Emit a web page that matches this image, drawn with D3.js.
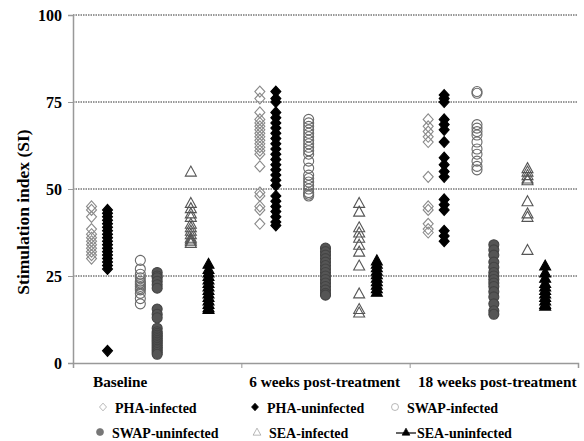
<!DOCTYPE html>
<html><head><meta charset="utf-8">
<script src="https://cdn.jsdelivr.net/npm/d3@7"></script>
<style>body{margin:0;background:#fff}svg{display:block}</style>
</head><body>
<script>
// ---------- DATA ----------
const groups = ["Baseline", "6 weeks post-treatment", "18 weeks post-treatment"];
const seriesNames = ["PHA-infected", "PHA-uninfected", "SWAP-infected", "SWAP-uninfected", "SEA-infected", "SEA-uninfected"];
const yTicks = [0, 25, 50, 75, 100];
// column positions (x-values) per group and series
const groupStart = [0, 10, 20];
const seriesOffset = [1.1, 2.05, 4.0, 5.0, 7.0, 8.05];

const phaInfected = [
  [45, 44, 42, 38.5, 37, 36, 35, 34, 33, 32, 31, 30],
  [78, 76, 72, 70, 69, 68, 67, 66, 65, 64, 63, 62, 61, 60, 56.5, 49, 48, 45, 44, 40],
  [70, 68, 66.5, 65, 63.5, 53.5, 45, 44, 40, 38.5, 37.5]
];
const phaUninfected = [
  [44, 43, 42, 41, 40, 39, 38, 37, 36, 35, 34, 33, 32, 31, 30, 29, 28, 27, 3.5],
  [78, 76, 75, 72, 70.5, 69, 67.5, 66, 64.5, 63, 61.5, 60, 58.5, 57, 55.5, 54, 52.5, 51, 48, 46.5, 45, 43.5, 42, 40.5, 39.5],
  [77, 76, 75, 70, 68.5, 67, 63.5, 59, 57, 55, 53.5, 47, 45.5, 44, 38, 36.5, 35]
];
const swapInfected = [
  [29.5, 27, 25.5, 24.5, 23.5, 23, 22.5, 22, 21.5, 21, 20, 18.5, 17],
  [70, 69, 68, 67, 66, 65, 64, 63, 62, 61, 60, 58, 56, 54, 53, 52, 51, 50, 49, 48.5, 48],
  [78, 77.5, 68.5, 67.5, 66.5, 65.5, 63.5, 61.5, 60, 58, 56.5, 55.5]
];
const swapUninfected = [
  [26, 25, 24.5, 23.5, 22.5, 21.5, 15.5, 14, 13, 10, 9, 8.5, 8, 7.5, 7, 6.5, 6, 5.5, 5, 4.5, 4, 3.5, 3, 2.5],
  [33, 32, 31, 30, 29, 28, 27, 26, 25, 24, 23, 22, 21, 20, 19.5],
  [34, 32.5, 31, 29, 27.5, 26, 25, 24, 23, 22, 20.5, 19, 17, 15, 14]
];
const seaInfected = [
  [55, 46, 44.5, 43, 42, 40, 39, 38, 37, 36, 35.5, 35, 34.5],
  [46, 43.5, 39, 37.5, 36, 34, 32, 28, 20, 15.5, 14.5],
  [56, 55, 54, 53, 52.5, 46.5, 43, 42, 32.5]
];
const seaUninfected = [
  [28.5, 27, 26, 25, 24, 23, 22, 21, 20, 19, 18, 17, 16, 15.5],
  [29.5, 28.5, 27.5, 26.5, 25.5, 24.5, 23.5, 22.5, 21.5, 20.5],
  [28, 26, 24.5, 23, 22, 21, 20, 19, 18, 17, 16.5]
];
const seriesValues = [phaInfected, phaUninfected, swapInfected, swapUninfected, seaInfected, seaUninfected];

// ---------- LAYOUT ----------
const W = 584, H = 441;
const L = 73, R = 578, T = 15, B = 363;
const svg = d3.select("body").append("svg").attr("width", W).attr("height", H);
const x = d3.scaleLinear().domain([0, 30]).range([L, R]);
const y = d3.scaleLinear().domain([0, 100]).range([B, T]);
const serif = "'Liberation Serif','Times New Roman',serif";

// marker shapes
const shapes = {
  diamond: "M0,-5.5L5,0L0,5.5L-5,0Z",
  circle: "M5,0A5,5 0 1,1 -5,0A5,5 0 1,1 5,0Z",
  triangle: "M0,-5.5L5.5,4.5L-5.5,4.5Z"
};
const styles = [
  {shape: "diamond", fill: "#fff", stroke: "#8a8a8a", fo: 0},
  {shape: "diamond", fill: "#000", stroke: "#000"},
  {shape: "circle", fill: "none", stroke: "#6a6a6a"},
  {shape: "circle", fill: "#555", stroke: "#444"},
  {shape: "triangle", fill: "none", stroke: "#555"},
  {shape: "triangle", fill: "#000", stroke: "#000"}
];

// gridlines
svg.append("g").selectAll("line").data(yTicks.filter(d => d > 0)).join("line")
  .attr("x1", L).attr("x2", R).attr("y1", d => y(d)).attr("y2", d => y(d))
  .attr("stroke", "#333").attr("stroke-width", 1).attr("stroke-dasharray", "1.5,1");

// y axis
const yAxis = d3.axisLeft(y).tickValues(yTicks).tickSize(5).tickPadding(6);
const ya = svg.append("g").attr("transform", `translate(${L},0)`).call(yAxis);
ya.select(".domain").attr("stroke", "#999").attr("stroke-width", 1.5);
ya.selectAll(".tick line").attr("stroke", "#999");
ya.selectAll(".tick text").attr("font-family", serif).attr("font-weight", "bold")
  .attr("font-size", 16).attr("fill", "#000");

// x axis
const xAxis = d3.axisBottom(x).tickValues([0, 10, 20, 30]).tickSize(5).tickFormat("");
const xa = svg.append("g").attr("transform", `translate(0,${B})`).call(xAxis);
xa.select(".domain").attr("stroke", "#999").attr("stroke-width", 1.5);
xa.selectAll(".tick line").attr("stroke", "#999");

// group labels
const labelX = [2.8, 14.95, 25.2];
svg.append("g").selectAll("text").data(groups).join("text")
  .attr("x", (d, i) => x(labelX[i])).attr("y", 387)
  .attr("text-anchor", "middle").attr("font-family", serif).attr("font-weight", "bold")
  .attr("font-size", 15.3).text(d => d);

// y title
svg.append("text").attr("transform", `translate(29,212) rotate(-90)`)
  .attr("text-anchor", "middle").attr("font-family", serif).attr("font-weight", "bold")
  .attr("font-size", 17.5).text("Stimulation index (SI)");

// points
const pts = [];
seriesValues.forEach((sv, s) => sv.forEach((vals, g) => vals.forEach(v =>
  pts.push({s, g, v, xv: groupStart[g] + seriesOffset[s]}))));
svg.append("g").selectAll("path").data(pts).join("path")
  .attr("transform", d => `translate(${x(d.xv)},${y(d.v)})`)
  .attr("d", d => shapes[styles[d.s].shape])
  .attr("fill", d => styles[d.s].fill)
  .attr("fill-opacity", d => styles[d.s].fo === 0 ? 0 : 1)
  .attr("stroke", d => styles[d.s].stroke).attr("stroke-width", 1.1);

// legend
const legPos = [[103, 408], [255, 408], [395, 408], [100, 433], [257, 433], [406, 433]];
const lg = svg.append("g");
seriesNames.forEach((name, i) => {
  const [lx, ly] = legPos[i];
  const st = styles[i];
  if (i === 5) {
    lg.append("line").attr("x1", lx - 10).attr("x2", lx + 10).attr("y1", ly).attr("y2", ly)
      .attr("stroke", "#000").attr("stroke-width", 1.2);
  }
  lg.append("path").attr("transform", `translate(${lx},${ly - 1}) scale(0.7)`)
    .attr("d", shapes[st.shape])
    .attr("fill", i === 3 ? "#777" : (st.fill === "none" ? "#fff" : st.fill))
    .attr("stroke", i === 3 ? "#777" : (i === 0 || i === 2 || i === 4 ? "#999" : st.stroke))
    .attr("stroke-width", 1);
  lg.append("text").attr("x", lx + (i === 5 ? 11 : 12)).attr("y", ly + 5)
    .attr("font-family", serif).attr("font-weight", "bold").attr("font-size", 14)
    .text(name);
});
</script>
</body></html>
